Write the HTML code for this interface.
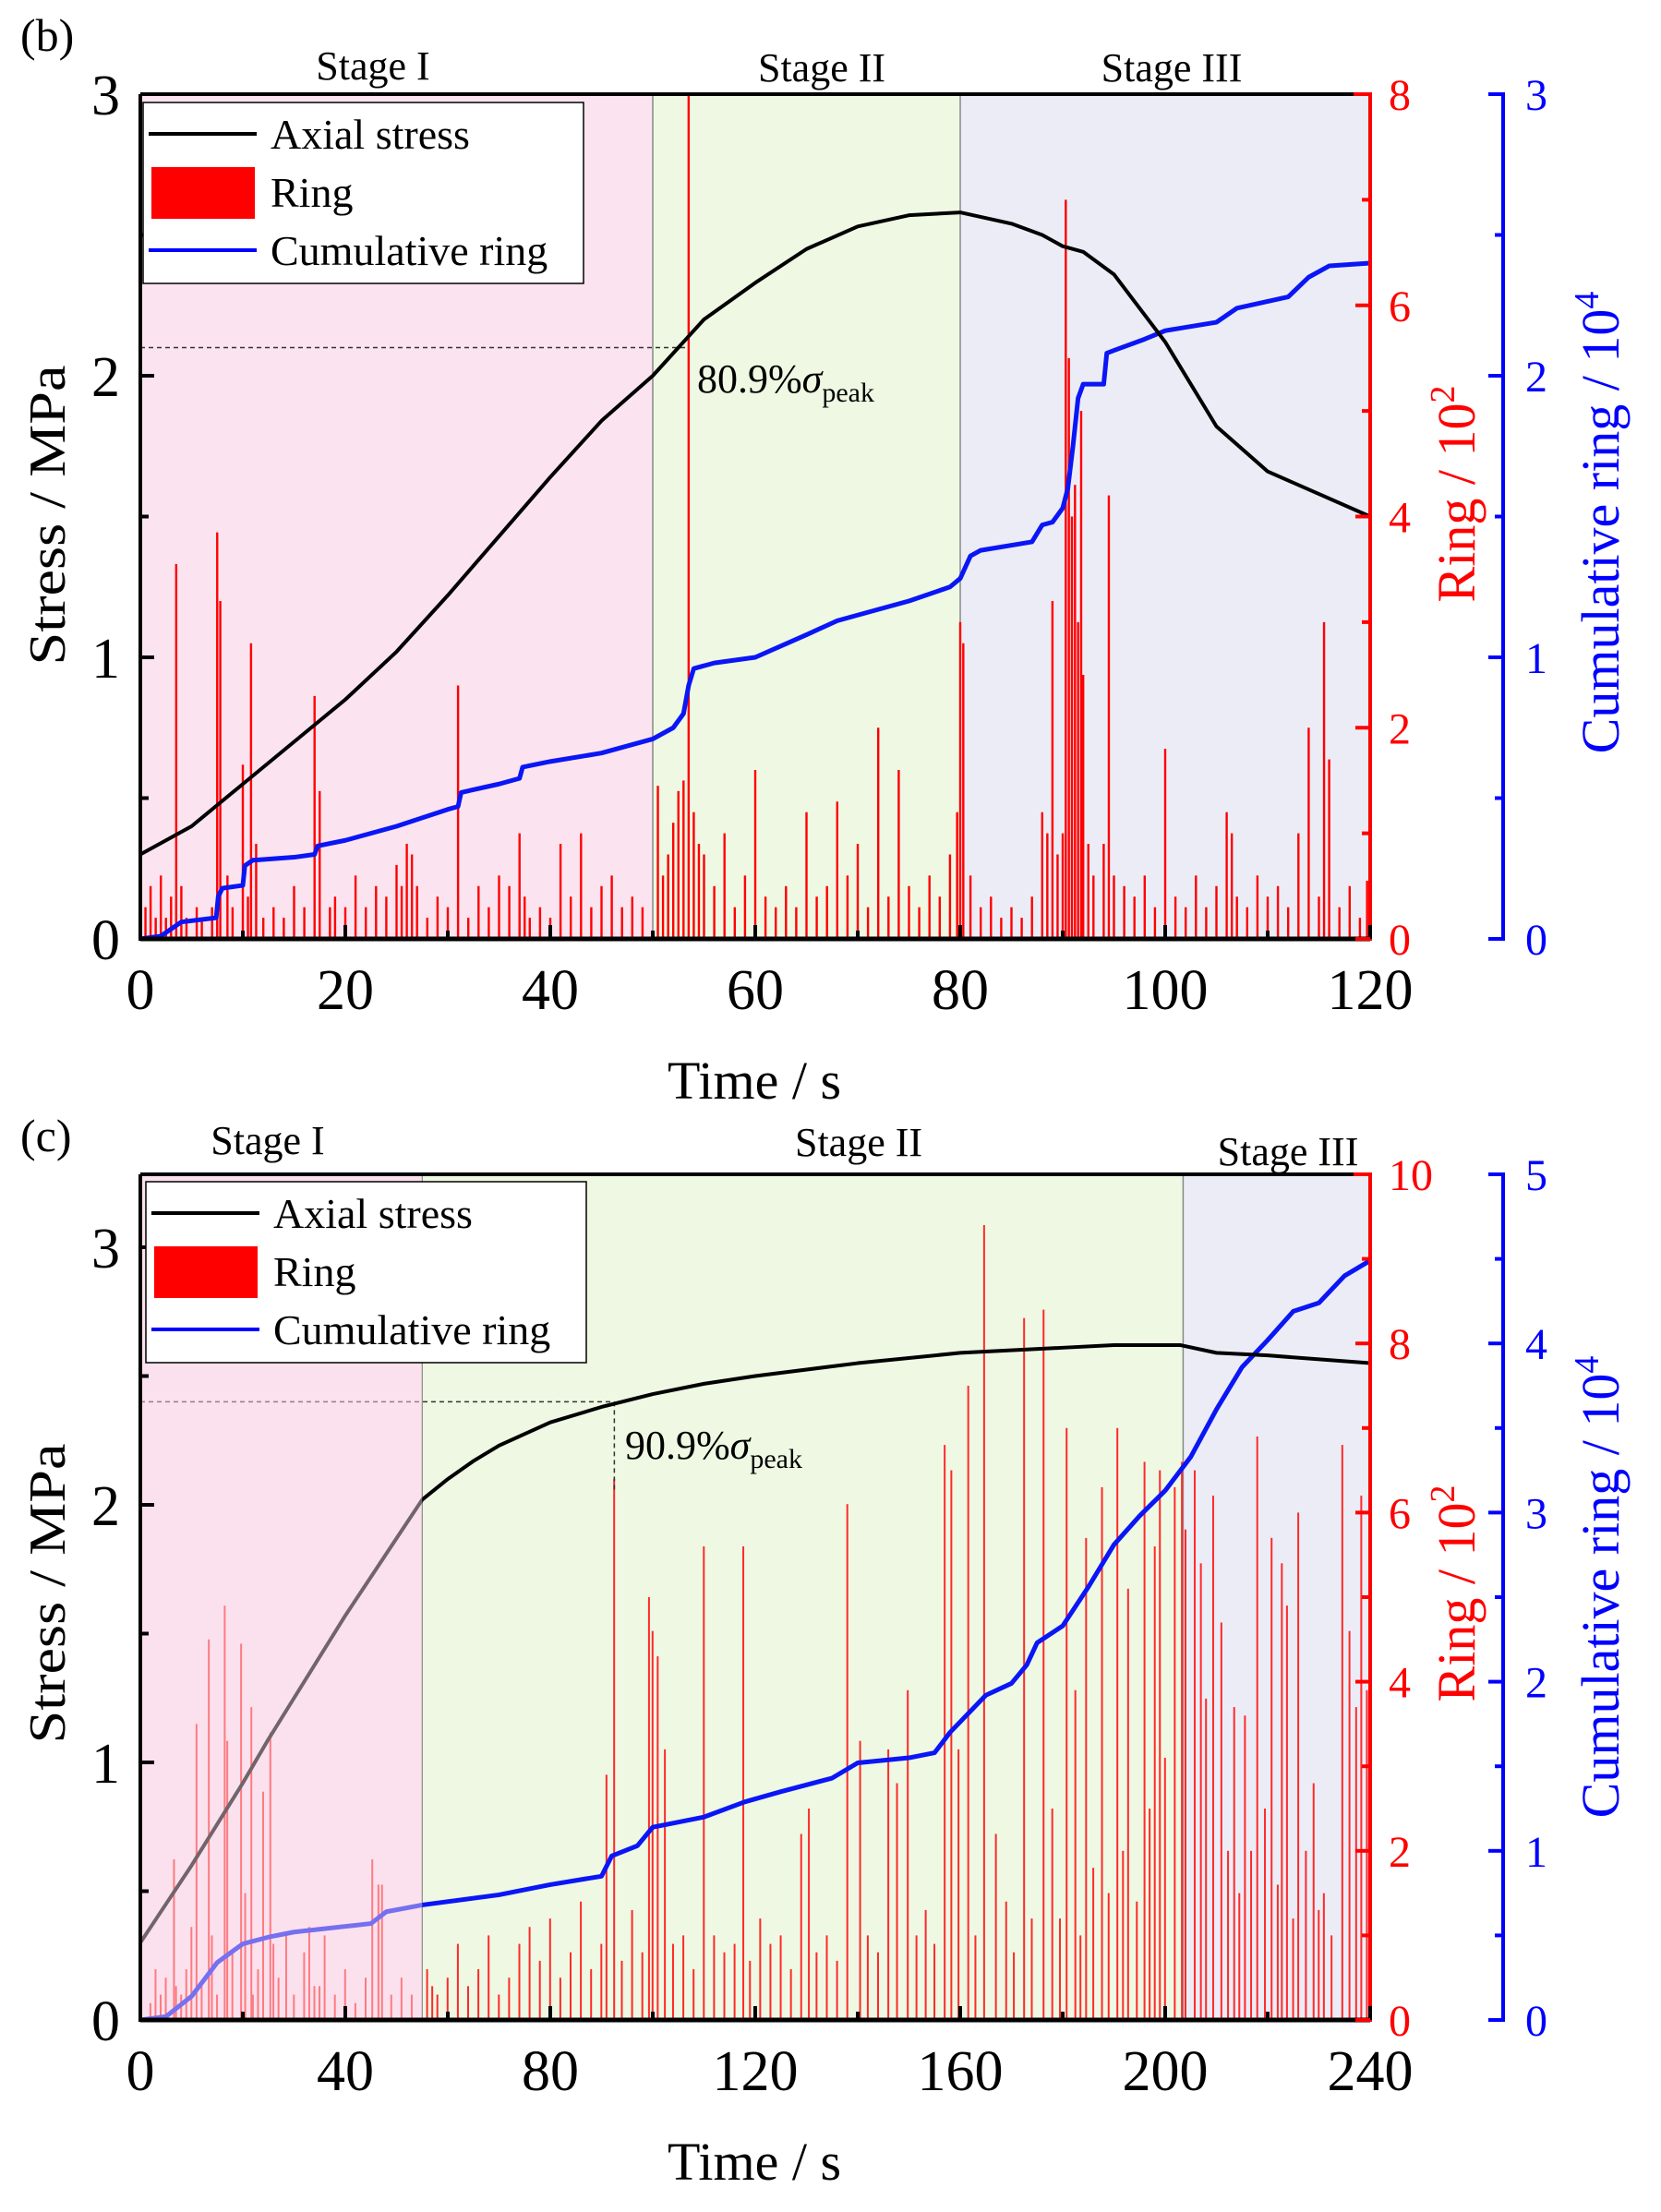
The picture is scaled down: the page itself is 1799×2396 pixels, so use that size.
<!DOCTYPE html>
<html><head><meta charset="utf-8"><style>
html,body{margin:0;padding:0;background:#fff;}
svg, svg text{font-family:"Liberation Serif","Times New Roman",serif;}
</style></head><body>
<svg id="fig" width="1799" height="2391" viewBox="0 0 1799 2391" xmlns="http://www.w3.org/2000/svg" font-family="Liberation Serif, serif"></svg>
<script>
// ---------- Panel (b) data ----------
const stressTimeB = [0,5,10,15,20,25,30,35,40,45,50,55,60,65,70,75,80,85,88,90,92,95,100,105,110,115,120];
const stressValB  = [0.3,0.4,0.55,0.7,0.85,1.02,1.22,1.43,1.64,1.84,2.0,2.2,2.33,2.45,2.53,2.57,2.58,2.54,2.5,2.46,2.44,2.36,2.12,1.82,1.66,1.58,1.5];
const cumTimeB = [0,2,4,7.4,7.6,8,10,10.2,11,11.2,15,17,17.3,20,25,30,31,31.3,35,37,37.3,40,45,50,52,53,53.5,54,56,60,65,68,72,75,79,80,81,82,87,88,89,90,90.5,91,91.5,92,94,94.3,95,98,100,105,107,112,114,116,120];
const cumValB  = [0,0.01,0.06,0.075,0.15,0.18,0.19,0.26,0.28,0.28,0.29,0.30,0.33,0.35,0.40,0.46,0.47,0.52,0.55,0.57,0.61,0.63,0.66,0.71,0.75,0.80,0.90,0.96,0.98,1.0,1.08,1.13,1.17,1.2,1.25,1.28,1.36,1.38,1.41,1.47,1.48,1.53,1.6,1.75,1.92,1.97,1.97,2.08,2.09,2.13,2.16,2.19,2.24,2.28,2.35,2.39,2.4];
const ringTimeB = [0.5,1,1.5,2,2.5,3,3.5,4,4.5,5.5, 6,7,7.5,7.8,8.5,9,10,10.5,10.8,11.3, 12,13,14,15,16,17,17.5,18.5,19,20, 21,22,23,24,25,25.5,26,26.5,27,28, 29,30,31,32,33,34,35,36,37,37.5, 38,39,40,41,42,43,44,45,46,47, 48,49,50.5,51,51.5,52,52.5,53,53.5,54, 54.5,55,56,57,58,59,60,61,62,63, 64,65,66,67,68,69,70,71,72,73, 74,75,76,77,78,79,79.7,80,80.3,81, 82,83,84,85,86,87,88,88.5,89,89.5, 90,90.3,90.6,90.9,91.2,91.5,91.8,92,92.5,93, 94,94.5,95,96,97,98,99,100,101,102, 103,104,105,106,106.5,107,108,109,110,111, 112,113,114,115,115.5,116,117,118,119,119.7];
const ringValB  = [0.3,0.5,0.2,0.6,0.2,0.4,3.55,0.5,0.2,0.3, 0.2,0.3,3.85,3.2,0.6,0.3,1.65,0.4,2.8,0.9, 0.2,0.3,0.2,0.5,0.3,2.3,1.4,0.3,0.4,0.3, 0.6,0.3,0.5,0.4,0.7,0.5,0.9,0.8,0.5,0.2, 0.4,0.3,2.4,0.2,0.5,0.3,0.6,0.5,1.0,0.4, 0.2,0.3,0.2,0.9,0.4,1.0,0.3,0.5,0.6,0.3, 0.4,0.3,1.45,0.6,0.8,1.1,1.4,1.5,8.0,1.2, 0.9,0.8,0.5,1.0,0.3,0.6,1.6,0.4,0.3,0.5, 0.3,1.2,0.4,0.5,1.3,0.6,0.9,0.3,2.0,0.4, 1.6,0.5,0.3,0.6,0.4,0.8,1.2,3.0,2.8,0.6, 0.3,0.4,0.2,0.3,0.2,0.4,1.2,1.0,3.2,0.8, 1.0,7.0,5.5,4.0,4.3,3.0,5.0,2.5,0.9,0.6, 0.9,4.2,0.6,0.5,0.4,0.6,0.3,1.8,0.4,0.3, 0.6,0.3,0.5,1.2,1.0,0.4,0.3,0.6,0.4,0.5, 0.3,1.0,2.0,0.4,3.0,1.7,0.3,0.5,0.2,0.55];
const xTicksB = [0,20,40,60,80,100,120];

// ---------- Panel (c) data ----------
const stressTimeC = [0,5,10,15,20,25,30,35,40,45,50,55,60,65,70,80,90,100,110,120,140,160,180,190,203,210,220,240];
const stressValC  = [0.3,0.45,0.6,0.76,0.92,1.09,1.25,1.41,1.57,1.72,1.87,2.02,2.1,2.17,2.23,2.32,2.38,2.43,2.47,2.5,2.55,2.59,2.61,2.62,2.62,2.59,2.58,2.55];
const cumTimeC = [0,5,10,15,20,25,30,45,48,55,70,80,90,92,97,100,110,118,125,135,140,150,155,158,165,170,173,175,180,185,190,195,200,205,210,215,220,225,230,235,240];
const cumValC  = [0,0.02,0.14,0.34,0.45,0.49,0.52,0.57,0.64,0.68,0.74,0.8,0.85,0.97,1.03,1.14,1.2,1.29,1.35,1.43,1.52,1.55,1.58,1.7,1.92,1.99,2.1,2.23,2.33,2.56,2.81,2.98,3.13,3.33,3.61,3.86,4.02,4.19,4.24,4.4,4.49];
const ringTimeC = [2,4,5,6.6,8,9,11,12,13.4,14, 15,16.5,17,18,19.7,20.5,21.7,23,24,25.4, 27,28.5,30,32,34,36,38,40,42,44, 45.3,46.5,47.2,49,51,53,56,58,60,62, 64,66,68,70,72,74,76,78,80,82, 84,86,88,90,91,92.5,94,96,98,99.3, 100,101,102.4,104,106,108,110,112,114,116, 117.7,119,121,123,125,127,129,130.5,132,134, 136,138,140.5,142,144,146,147.7,149.8,151.5,153.3, 155,157,158.3,159.7,161.6,163,164.7,167,169,170.5, 172.5,174,176.3,178,179.5,180.8,182.5,183.5,184.6,186, 187.7,189,190.7,191.8,192.8,194.5,196,197,198,199, 200,201.9,203.3,204,205.8,207,208,209.4,211,212.3, 213.5,214.5,215.6,216.8,218,219.5,220.8,222,222.8,223.8, 225,226,227.5,229,230,231,232.5,234.6,236,237.3, 238.3,239.4,3,7,10,22,26,33,35,57];
const ringValC  = [0.2,0.3,0.5,1.9,0.3,0.6,3.5,0.4,4.5,1.0, 0.3,4.9,3.3,0.8,4.45,1.5,3.7,0.6,2.7,3.4, 0.5,1.0,0.3,0.8,0.4,1.0,0.3,0.6,0.2,0.5, 1.9,1.6,1.6,0.3,0.5,0.3,0.6,0.3,0.5,0.9, 0.4,0.6,1.0,0.3,0.5,0.9,1.1,0.7,1.2,0.5, 0.8,1.4,0.6,0.9,2.9,6.4,0.7,1.3,0.8,5.0, 4.6,4.3,3.2,0.9,1.0,0.6,5.6,1.0,0.8,0.9, 5.6,0.7,1.2,0.9,1.0,0.6,2.2,2.5,0.8,1.0, 0.7,6.1,3.3,1.0,0.8,3.2,2.8,3.9,1.0,1.3, 0.9,6.8,6.5,3.2,7.5,1.0,9.4,2.2,1.4,0.8, 8.3,1.2,8.4,2.5,1.2,7.0,3.9,1.0,5.7,1.8, 6.3,1.5,7.0,2.0,5.1,1.4,6.6,2.5,5.6,6.5, 3.1,6.3,6.6,5.8,6.5,5.4,3.8,6.2,4.7,2.0, 3.7,1.5,3.6,2.0,6.9,2.5,5.7,1.6,5.4,4.9, 1.2,6.0,2.0,2.8,1.3,1.5,1.0,6.8,4.6,3.7, 6.2,3.9,0.6,0.4,1.1,0.3,0.9,1.1,0.4,0.4];
const xTicksC = [0,40,80,120,160,200,240];

const NS = "http://www.w3.org/2000/svg";
const FONT = '"Liberation Serif", "Times New Roman", serif';
const svg = document.getElementById('fig');
function mk(tag, attrs, parent, text){
  const e = document.createElementNS(NS, tag);
  for (const k in attrs) e.setAttribute(k, attrs[k]);
  if (tag === 'text') e.style.fontFamily = FONT;
  if (text !== undefined) e.textContent = text;
  (parent || svg).appendChild(e);
  return e;
}

function panel(o){
  const g = mk('g', {});
  
  
  const L=152, R=1484, T=o.top, B=o.bottom, BL=1628;
  const x = t => L + t / o.xMax * (R - L);
  const yS = v => B - v / o.sMax * (B - T);
  const yR = v => B - v / o.rMax * (B - T);
  const yC = v => B - v / o.cMax * (B - T);

  const st = [[0,o.s1,'#fbe4ef'],[o.s1,o.s2,'#eef8e3'],[o.s2,o.xMax,'#ececf6']];
  st.forEach((s,i)=>{
    const r = mk('rect',{x:x(s[0]),y:T,width:x(s[1])-x(s[0]),height:B-T,fill:s[2]},g);
    
    
  });
  [o.s1,o.s2].forEach(s=>mk('line',{x1:x(s),x2:x(s),y1:T,y2:B,stroke:'#888',"stroke-width":1.5},g));

  const bars = mk('g',{},g);
  
  
  o.ringT.forEach((t,i)=>{
    const b = mk('rect',{x:x(t)-1.2,y:yR(o.ringV[i]),width:o.barW,height:B-yR(o.ringV[i]),fill:o.barColor},bars);
    
    
  });

  const dy = yS(o.refStress);
  mk('line',{x1:L,x2:x(o.refT),y1:dy,y2:dy,stroke:'#333',"stroke-width":1.5,"stroke-dasharray":"5,4"},g);
  if (o.refDown) mk('line',{x1:x(o.refT),x2:x(o.refT),y1:dy,y2:yS(o.refDown),stroke:'#333',"stroke-width":1.5,"stroke-dasharray":"5,4"},g);

  const cp = mk('polyline',{points:o.cumT.map((t,i)=>x(t)+','+yC(o.cumV[i])).join(' '),fill:'none',stroke:'#0a16f5',"stroke-width":5,"stroke-linejoin":"round"},g);
  
  
  const sp = mk('polyline',{points:o.sT.map((t,i)=>x(t)+','+yS(o.sV[i])).join(' '),fill:'none',stroke:'#000',"stroke-width":4,"stroke-linejoin":"round"},g);
  
  

  if (o.overlay) mk('rect',{x:L,y:T,width:x(o.s1)-L,height:B-T,fill:'rgba(251,222,236,0.45)'},g);

  const an = mk('text',{x:o.annX,y:o.annY,"font-size":44,fill:'#000'},g);
  
  
  mk('tspan',{},an,o.annText);
  mk('tspan',{"font-style":'italic'},an,'σ');
  mk('tspan',{"font-size":30,dy:10},an,'peak');

  mk('line',{x1:L,x2:R,y1:T,y2:T,stroke:'#000',"stroke-width":4},g);
  mk('line',{x1:L,x2:R,y1:B,y2:B,stroke:'#000',"stroke-width":5},g);
  mk('line',{x1:L,x2:L,y1:T,y2:B+2,stroke:'#000',"stroke-width":4},g);
  mk('line',{x1:R,x2:R,y1:T-2,y2:B+2,stroke:'#f00',"stroke-width":4},g);
  mk('line',{x1:R-18,x2:R,y1:T,y2:T,stroke:'#f00',"stroke-width":4},g);
  mk('line',{x1:BL,x2:BL,y1:T-2,y2:B+2,stroke:'#00f',"stroke-width":4},g);

  o.xTicks.forEach((t,i)=>{
    mk('line',{x1:x(t),x2:x(t),y1:B,y2:B-15,stroke:'#000',"stroke-width":4},g);
    if (i<o.xTicks.length-1){ const m=(t+o.xTicks[i+1])/2; mk('line',{x1:x(m),x2:x(m),y1:B,y2:B-9,stroke:'#000',"stroke-width":4},g); }
    const lb = mk('text',{x:x(t),y:B+76,"font-size":62,"text-anchor":'middle'},g,String(t));
    
    
  });
  for (let v=0; v<=o.sMax+1e-9; v+=0.5){
    const major = Math.abs(v-Math.round(v))<1e-9;
    mk('line',{x1:L,x2:L+(major?15:9),y1:yS(v),y2:yS(v),stroke:'#000',"stroke-width":4},g);
    if (major){
      const lb = mk('text',{x:130,y:yS(v)+22,"font-size":62,"text-anchor":'end'},g,String(v));
      
      
    }
  }
  for (let v=0; v<=o.rMax; v+=1){
    const major = v%2===0;
    mk('line',{x1:R,x2:R-(major?16:9),y1:yR(v),y2:yR(v),stroke:'#f00',"stroke-width":4},g);
    if (major){
      const lb = mk('text',{x:1504,y:yR(v)+17,"font-size":48,fill:'#f00'},g,String(v));
      
      
    }
  }
  for (let v=0; v<=o.cMax+1e-9; v+=0.5){
    const major = Math.abs(v-Math.round(v))<1e-9;
    mk('line',{x1:BL,x2:BL-(major?16:9),y1:yC(v),y2:yC(v),stroke:'#00f',"stroke-width":4},g);
    if (major){
      const lb = mk('text',{x:1652,y:yC(v)+17,"font-size":48,fill:'#00f'},g,String(v));
      
      
    }
  }
  const tx = mk('text',{x:817,y:B+173,"font-size":58,"text-anchor":'middle'},g,'Time / s');
   
  const ts = mk('text',{x:0,y:0,"font-size":56,"text-anchor":'middle',transform:`translate(70,${o.sLabelY}) rotate(-90)`,textLength:325,lengthAdjust:'spacingAndGlyphs'},g,'Stress / MPa');
   
  const tr = mk('text',{x:0,y:0,"font-size":58,"text-anchor":'middle',fill:'#f00',transform:`translate(1597,${o.rLabelY}) rotate(-90)`},g);
   
  mk('tspan',{},tr,'Ring / 10'); mk('tspan',{"font-size":38,dy:-22},tr,'2');
  const tc = mk('text',{x:0,y:0,"font-size":58,"text-anchor":'middle',fill:'#00f',transform:`translate(1753,${o.cLabelY}) rotate(-90)`},g);
   
  mk('tspan',{},tc,'Cumulative ring / 10'); mk('tspan',{"font-size":38,dy:-22},tc,'4');

  o.stageLabels.forEach(s=>{
    const t = mk('text',{x:s[0],y:s[1],"font-size":44,"text-anchor":'middle'},g,s[2]);
     
  });
  const pl = mk('text',{x:22,y:o.plY,"font-size":50},g,o.panelLabel);
   

  const lg = mk('g',{},g);
   
  const ly = o.legY;
  mk('rect',{x:o.legX,y:ly,width:477,height:196,fill:'#fff',stroke:'#000',"stroke-width":1.5},lg);
  mk('line',{x1:o.legX+6,x2:o.legX+123,y1:ly+34,y2:ly+34,stroke:'#000',"stroke-width":4},lg);
  mk('rect',{x:o.legX+9,y:ly+70,width:112,height:56,fill:'#f00'},lg);
  mk('line',{x1:o.legX+6,x2:o.legX+123,y1:ly+160,y2:ly+160,stroke:'#00f',"stroke-width":4},lg);
  ['Axial stress','Ring','Cumulative ring'].forEach((s,i)=>{
    const t = mk('text',{x:o.legX+138,y:ly+50+i*63,"font-size":46},lg,s);
     
  });
}

panel({name:'panel-b', top:102, bottom:1017, xMax:120, sMax:3, rMax:8, cMax:3, s1:50, s2:80,
  sT:stressTimeB, sV:stressValB, cumT:cumTimeB, cumV:cumValB, ringT:ringTimeB, ringV:ringValB,
  xTicks:xTicksB, barW:2.4, barColor:'#ff0000', refStress:2.1, refT:53.5, refDown:null,
  annX:755, annY:425, annText:'80.9%', overlay:false,
  stageLabels:[[404,86,'Stage I'],[890,88,'Stage II'],[1269,88,'Stage III']],
  panelLabel:'(b)', plY:55, legX:155, legY:111, sLabelY:558, rLabelY:535, cLabelY:566});

panel({name:'panel-c', top:1272, bottom:2188, xMax:240, sMax:916/279, rMax:10, cMax:5, s1:55, s2:203.5,
  sT:stressTimeC, sV:stressValC, cumT:cumTimeC, cumV:cumValC, ringT:ringTimeC, ringV:ringValC,
  xTicks:xTicksC, barW:2, barColor:'#ff2a2a', refStress:2.4, refT:92.5, refDown:2.05,
  annX:677, annY:1580, annText:'90.9%', overlay:true,
  stageLabels:[[290,1250,'Stage I'],[930,1252,'Stage II'],[1395,1262,'Stage III']],
  panelLabel:'(c)', plY:1247, legX:158, legY:1280, sLabelY:1726, rLabelY:1726, cLabelY:1719});
</script>
</body></html>
